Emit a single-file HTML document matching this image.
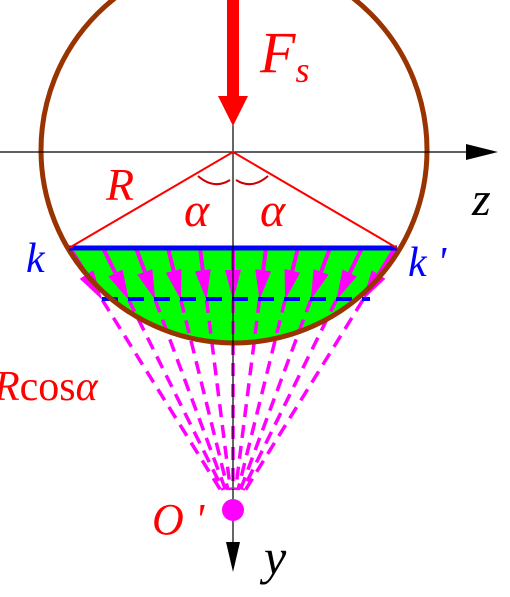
<!DOCTYPE html>
<html><head><meta charset="utf-8"><style>
html,body{margin:0;padding:0;background:#fff;width:510px;height:597px;overflow:hidden}
text{font-family:"Liberation Serif",serif;font-style:italic}
</style></head><body>
<svg id="fig" width="510" height="597" viewBox="0 0 510 597" xmlns="http://www.w3.org/2000/svg">
<defs><clipPath id="cc"><circle cx="234" cy="150" r="193"/></clipPath></defs>
<rect x="0" y="248" width="510" height="120" fill="#00ff00" clip-path="url(#cc)"/>
<g id="arrows"></g>
<line x1="102" y1="299" x2="370" y2="299" stroke="#0000ff" stroke-width="4" stroke-dasharray="16,10"/>
<circle cx="234" cy="150" r="193" fill="none" stroke="#993300" stroke-width="5"/>
<line x1="69" y1="248" x2="397" y2="248" stroke="#0000ff" stroke-width="5"/>
<line x1="0" y1="152" x2="472" y2="152" stroke="#000" stroke-width="1.2"/>
<polygon points="466,144 498,152 466,160" fill="#000"/>
<line x1="233" y1="0" x2="233" y2="548" stroke="#000" stroke-width="1.2"/>
<polygon points="226,542 233,572 240,542" fill="#000"/>
<polyline points="69,248 233,152 397,248" fill="none" stroke="#ff0000" stroke-width="2"/>
<path d="M198,176 Q214,190 230,180" fill="none" stroke="#cc0000" stroke-width="2"/>
<path d="M236,180 Q252,190 268,176" fill="none" stroke="#cc0000" stroke-width="2"/>
<rect x="227" y="0" width="12" height="98" fill="#ff0000"/>
<polygon points="218,96 248,96 233,126" fill="#ff0000"/>
<circle cx="233" cy="510" r="11" fill="#ff00ff"/>
<text x="260" y="72" font-size="58" fill="#ff0000">F<tspan font-size="36" dy="10">s</tspan></text>
<text x="106" y="200" font-size="46" fill="#ff0000">R</text>
<text x="184" y="226" font-size="48" fill="#ff0000">α</text>
<text x="260" y="226" font-size="48" fill="#ff0000">α</text>
<text x="472" y="215" font-size="48" fill="#000">z</text>
<text x="26" y="272" font-size="42" fill="#0000ff">k</text>
<text x="408" y="276" font-size="42" fill="#0000ff">k '</text>
<text x="-6" y="400" font-size="42" fill="#ff0000">R<tspan font-style="normal">cos</tspan>α</text>
<text x="152" y="534" font-size="44" fill="#ff0000">O '</text>
<text x="264" y="574" font-size="50" fill="#000">y</text>
</svg>
<script>
const startXs=[70,103,136,168,200,233,266,298,330,362,395];
const chordY=248, ox=233, oy=510;
const g=document.getElementById('arrows');
const NS='http://www.w3.org/2000/svg';
startXs.forEach(function(x){
  const dx=ox-x, dy=oy-chordY, L=Math.hypot(dx,dy), ux=dx/L, uy=dy/L;
  const tipT=(300-chordY)/uy, baseT=tipT-30;
  const bx=x+ux*baseT, by=chordY+uy*baseT, tx=x+ux*tipT, ty=chordY+uy*tipT;
  const endT=(490-chordY)/uy;
  const s=document.createElementNS(NS,'line');
  
  
  s.setAttribute('x1',x);s.setAttribute('y1',chordY);s.setAttribute('x2',bx);s.setAttribute('y2',by);
  s.setAttribute('stroke','#ff00ff');s.setAttribute('stroke-width','4');g.appendChild(s);
  const h=document.createElementNS(NS,'polygon');
  
  
  const px=-uy*8, py=ux*8;
  h.setAttribute('points',(bx+px)+','+(by+py)+' '+(bx-px)+','+(by-py)+' '+tx+','+ty);
  h.setAttribute('fill','#ff00ff');g.appendChild(h);
  const d=document.createElementNS(NS,'line');
  
  
  d.setAttribute('x1',tx);d.setAttribute('y1',ty);d.setAttribute('x2',x+ux*endT);d.setAttribute('y2',chordY+uy*endT);
  d.setAttribute('stroke','#ff00ff');d.setAttribute('stroke-width','3.5');d.setAttribute('stroke-dasharray','13,8');
  g.appendChild(d);
});
</script>
</body></html>
